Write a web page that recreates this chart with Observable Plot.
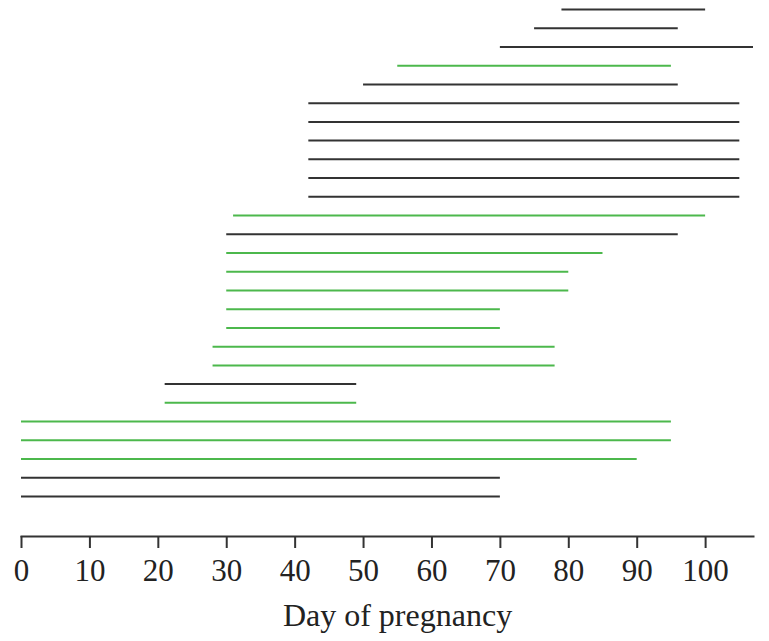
<!DOCTYPE html>
<html>
<head>
<meta charset="utf-8">
<script src="https://cdn.jsdelivr.net/npm/d3@7"></script>
<script src="https://cdn.jsdelivr.net/npm/@observablehq/plot@0.6"></script>
<style>
  html, body { margin: 0; padding: 0; background: #fff; overflow: hidden; }
  svg { display: block; }
</style>
</head>
<body>
<div id="chart"></div>
<script>
// Rows listed from top to bottom
const starts = [79, 75, 70, 55, 50, 42, 42, 42, 42, 42, 42, 31, 30, 30, 30, 30, 30, 30, 28, 28, 21, 21, 0, 0, 0, 0, 0];
const ends   = [100, 96, 107, 95, 96, 105, 105, 105, 105, 105, 105, 100, 96, 85, 80, 80, 70, 70, 78, 78, 49, 49, 95, 95, 90, 70, 70];
const groups = ["A","A","A","B","A","A","A","A","A","A","A",
                "B","A","B","B","B","B","B","B","B","A","B",
                "B","B","B","A","A"];
const xTicks = [0, 10, 20, 30, 40, 50, 60, 70, 80, 90, 100];
const xLabel = "Day of pregnancy";

const data = starts.map((s, i) => ({row: i, start: s, end: ends[i], group: groups[i]}));

const chart = Plot.plot({
  width: 769,
  height: 641,
  marginTop: 9,
  marginLeft: 21,
  marginRight: 16,
  marginBottom: 105,
  style: {fontFamily: "'Liberation Serif', 'Times New Roman', serif", background: "#fff", color: "#222"},
  x: {domain: [0, 107]},
  y: {type: "linear", domain: [0, starts.length - 1], range: [9, 496], axis: null},
  color: {domain: ["A", "B"], range: ["#333333", "#4cb84c"]},
  marks: [
    Plot.ruleY(data, {y: "row", x1: "start", x2: "end", stroke: "group", strokeWidth: 2}),
    Plot.frame({anchor: "bottom", stroke: "#333", strokeWidth: 2}),
    Plot.axisX({ticks: xTicks, tickSize: 12, tickPadding: 10, fontSize: 31, stroke: "#333", strokeWidth: 2, label: null, fill: "#222"}),
    Plot.text([xLabel], {frameAnchor: "bottom", dx: 10, dy: 89, lineAnchor: "bottom", fontSize: 32, fill: "#222"})
  ]
});
document.getElementById("chart").appendChild(chart);
</script>
</body>
</html>
